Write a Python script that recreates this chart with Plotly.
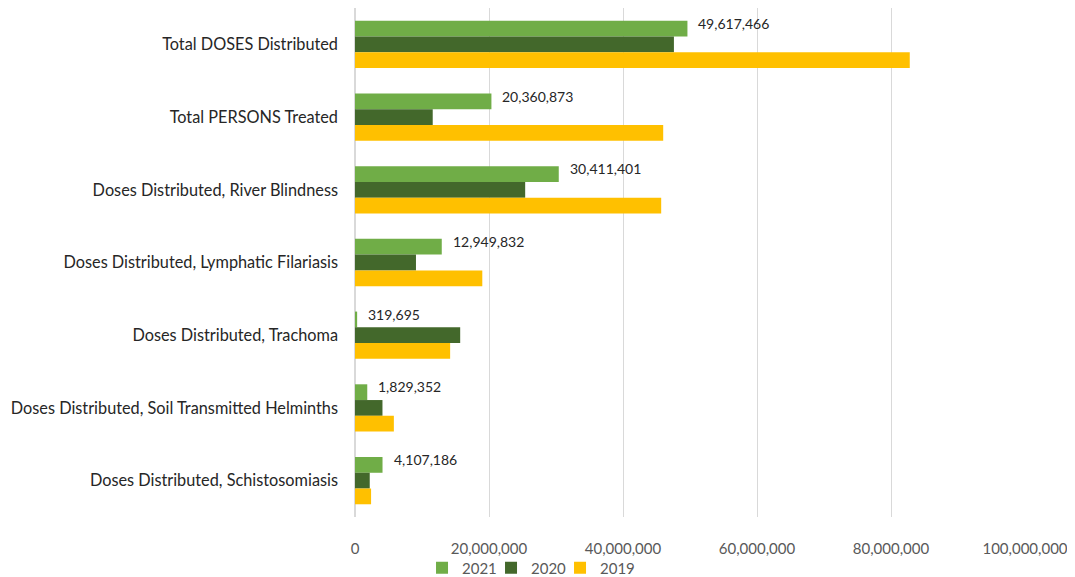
import plotly.graph_objects as go

categories = [
    "Total DOSES Distributed",
    "Total PERSONS Treated",
    "Doses Distributed, River Blindness",
    "Doses Distributed, Lymphatic Filariasis",
    "Doses Distributed, Trachoma",
    "Doses Distributed, Soil Transmitted Helminths",
    "Doses Distributed, Schistosomiasis",
]
years = ["2021", "2020", "2019"]
values_2021 = [49617466, 20360873, 30411401, 12949832, 319695, 1829352, 4107186]
values_2020 = [47600000, 11600000, 25400000, 9100000, 15700000, 4100000, 2200000]
values_2019 = [82800000, 46000000, 45700000, 19000000, 14200000, 5800000, 2400000]
x_ticks = [0, 20000000, 40000000, 60000000, 80000000, 100000000]

COLORS = {"2021": "#70AD47", "2020": "#43682B", "2019": "#FFC000"}
FONT = "Lato, 'Open Sans', sans-serif"

fig = go.Figure()
for year, vals in zip(years, [values_2021, values_2020, values_2019]):
    fig.add_trace(go.Bar(
        name=year,
        y=categories,
        x=vals,
        orientation="h",
        marker=dict(color=COLORS[year], line=dict(width=0)),
        hovertemplate="%{y}: %{x:,}<extra>" + year + "</extra>",
    ))

# empty spacer entry so the narrow legend entries don't clip the last label
fig.add_trace(go.Scatter(
    x=[None], y=[None], mode="markers", name=" ",
    marker=dict(color="rgba(0,0,0,0)"), hoverinfo="skip",
))

# data labels only on the 2021 bars
for cat, v in zip(categories, values_2021):
    fig.add_annotation(
        x=v, y=cat, text=f"{v:,}", showarrow=False,
        xanchor="left", xshift=9, yshift=21,
        font=dict(size=14, color="#262626", family=FONT),
    )

# page body has an 8px margin, so the figure is sized/offset for it
fig.update_layout(
    width=1067, height=569,
    autosize=False,
    barmode="group",
    bargap=0.35,
    bargroupgap=0,
    plot_bgcolor="white",
    paper_bgcolor="white",
    margin=dict(l=347, r=50, t=0, b=60, autoexpand=False),
    font=dict(family=FONT, size=14, color="#595959"),
    legend=dict(
        orientation="h", x=0.306, xanchor="center",
        y=-0.1, yanchor="middle",
        bgcolor="rgba(0,0,0,0)",
        font=dict(size=15, color="#595959"), itemwidth=30,
        entrywidth=24, traceorder="normal",
    ),
)
fig.update_xaxes(
    range=[0, 100000000],
    tickvals=x_ticks,
    tickformat=",d",
    tickangle=0,
    automargin=False,
    showgrid=True, gridcolor="#D9D9D9", gridwidth=1,
    zeroline=True, zerolinecolor="#D9D9D9",
    ticklabelstandoff=21,
    tickfont=dict(size=15, color="#595959"),
)
fig.update_yaxes(
    autorange="reversed",
    automargin=False,
    showgrid=False, zeroline=False,
    ticklabelstandoff=16,
    tickfont=dict(size=16.3, color="#262626"),
)

fig.write_html("out.html")
